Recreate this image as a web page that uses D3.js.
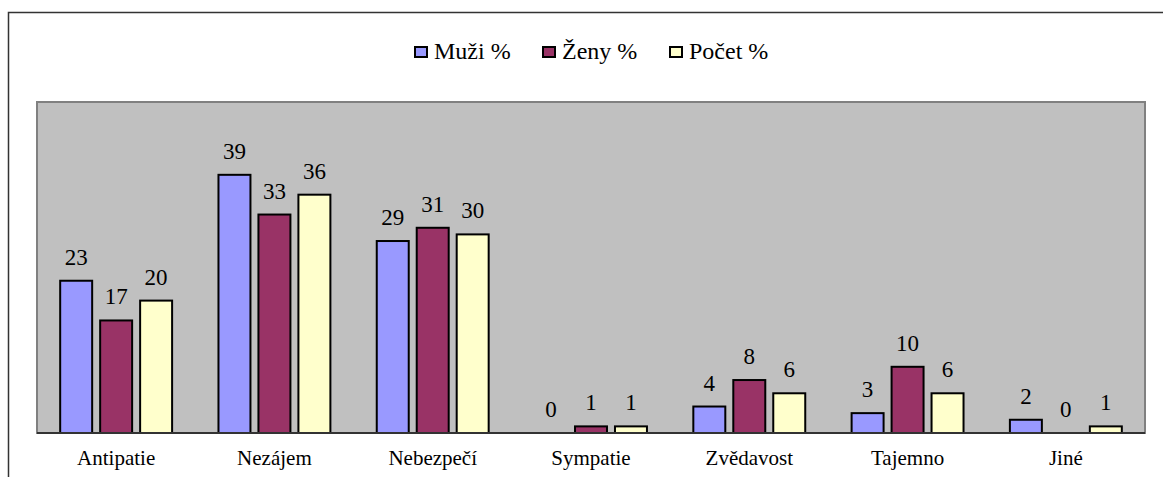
<!DOCTYPE html>
<html><head><meta charset="utf-8">
<script src="https://cdn.jsdelivr.net/npm/d3@7"></script>
<style>body{margin:0;background:#fff;} #c text{font-family:'Liberation Serif' !important;}</style>
</head><body><svg id="c" width="1163" height="477"></svg>
<script>
const categories = ["Antipatie","Nezájem","Nebezpečí","Sympatie","Zvědavost","Tajemno","Jiné"];
const seriesNames = ["Muži %","Ženy %","Počet %"];
const muzi = [23,39,29,0,4,3,2];
const zeny = [17,33,31,1,8,10,0];
const pocet = [20,36,30,1,6,6,1];
const colors = ["#9999FF","#993366","#FFFFCC"];
const yTicks = [0,50];

const svg = d3.select("#c");
const values = [muzi, zeny, pocet];
const plot = {left:37, top:102, right:1145, bottom:433};
const FAM = "Liberation Serif";

function serif(sel, size) {
  sel.attr("font-family", FAM).attr("font-size", size)
     .style("font-family", "'" + FAM + "'", "important")
     .style("font-size", size + "px", "important");
  return sel;
}

// outer chart border
svg.append("rect").attr("x",8.5).attr("y",12.5).attr("width",1170).attr("height",480)
  .attr("fill","#fff").attr("stroke","#333").attr("stroke-width",1.5);

const x0 = d3.scaleBand().domain(categories).range([plot.left, plot.right]).padding(0);
const x1 = d3.scaleBand().domain(seriesNames).range([0, x0.bandwidth()]).paddingInner(0.2).paddingOuter(0.58);
const y = d3.scaleLinear().domain([yTicks[0], yTicks[1]]).range([plot.bottom, plot.top]);

// plot area
svg.append("rect").attr("x",plot.left).attr("y",plot.top).attr("width",plot.right-plot.left).attr("height",plot.bottom-plot.top)
  .attr("fill","#C0C0C0").attr("stroke","#808080").attr("stroke-width",2);

// bars
const data = [];
categories.forEach((c,i)=>seriesNames.forEach((s,j)=>data.push({c,s,j,v:values[j][i]})));
svg.append("g").selectAll("rect").data(data.filter(d=>d.v>0)).join("rect")
  .attr("x",d=>x0(d.c)+x1(d.s)).attr("width",x1.bandwidth())
  .attr("y",d=>y(d.v)).attr("height",d=>y(0)-y(d.v))
  .attr("fill",d=>colors[d.j]).attr("stroke","#000").attr("stroke-width",2);

// axis line
svg.append("line").attr("x1",plot.left).attr("x2",plot.right).attr("y1",plot.bottom).attr("y2",plot.bottom)
  .attr("stroke","#333").attr("stroke-width",2);

// value labels
const vl = svg.append("g");
vl.selectAll("text").data(data).enter().append("text")
  .attr("x",d=>x0(d.c)+x1(d.s)+x1.bandwidth()/2).attr("y",d=>y(d.v)-16)
  .attr("text-anchor","middle").attr("fill","#000").text(d=>String(d.v))
  .call(serif, 23);

// category labels
const xAxis = d3.axisBottom(x0).tickSize(0).tickPadding(0);
const ax = svg.append("g").attr("transform",`translate(0,${plot.bottom})`).call(xAxis);
ax.attr("font-family", FAM);
ax.select(".domain").remove();
ax.selectAll("text").attr("dy",null).attr("y",32).attr("fill","#000").call(serif, 21);

// legend
const legX = [415, 543, 670];
const lg = svg.append("g");
seriesNames.forEach((s,j)=>{
  lg.append("rect").attr("x",legX[j]).attr("y",47).attr("width",12).attr("height",10)
    .attr("fill",colors[j]).attr("stroke","#000").attr("stroke-width",2);
  lg.append("text").attr("x",legX[j]+19).attr("y",59).attr("fill","#000").text(s).call(serif, 24);
});
</script></body></html>
